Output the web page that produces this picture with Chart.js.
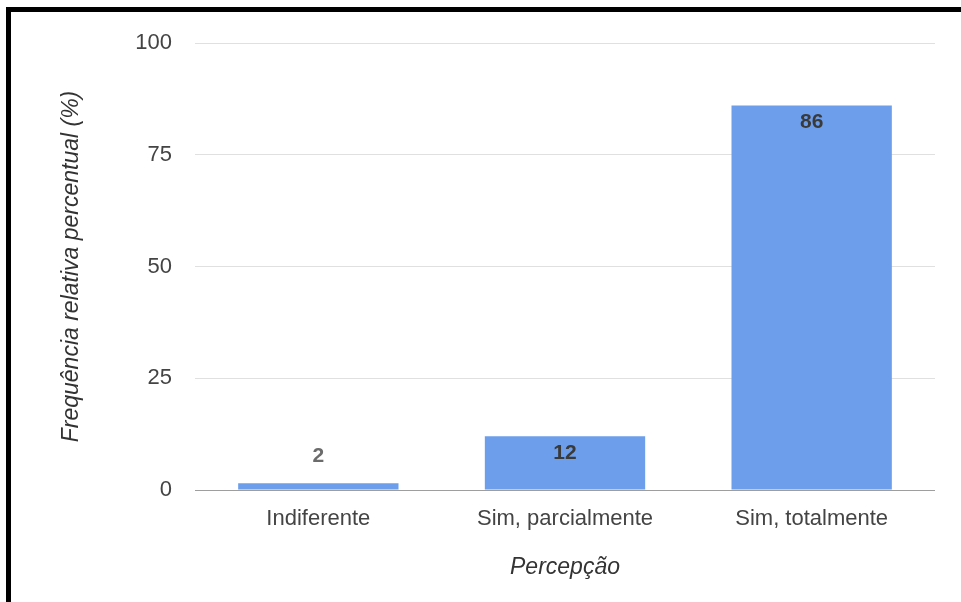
<!DOCTYPE html>
<html>
<head>
<meta charset="utf-8">
<script src="https://cdn.jsdelivr.net/npm/chart.js@4/dist/chart.umd.min.js"></script>
<style>
  html, body { margin: 0; padding: 0; background: #fff; }
  #wrap { position: relative; width: 961px; height: 602px; overflow: hidden; }
  #frame { position: absolute; left: 6px; top: 7px; right: -10px; bottom: -10px;
           border-left: 5px solid #000; border-top: 5px solid #000; }
  canvas { position: absolute; left: 0; top: 0; }
</style>
</head>
<body>
<div id="wrap">
  <div id="frame"></div>
  <canvas id="c" width="961" height="602"></canvas>
</div>
<script>
const categories = ["Indiferente", "Sim, parcialmente", "Sim, totalmente"];
const values = [1.5, 12, 86];
const yTicks = [0, 25, 50, 75, 100];
const xTitle = "Percepção";
const yTitle = "Frequência relativa percentual (%)";

const FONT = "'Liberation Sans', Arial, sans-serif";

const valueLabels = {
  id: 'valueLabels',
  afterDatasetsDraw(chart) {
    const ctx = chart.ctx;
    const meta = chart.getDatasetMeta(0);
    ctx.save();
    ctx.font = "bold 21px " + FONT;
    ctx.textAlign = 'center';
    ctx.textBaseline = 'middle';
    meta.data.forEach((bar, i) => {
      const v = chart.data.datasets[0].data[i];
      const txt = String(Math.round(v));
      const h = bar.base - bar.y;
      if (h > 30) {
        ctx.fillStyle = '#3a3a3a';
        ctx.fillText(txt, bar.x, bar.y + 17);
      } else {
        ctx.fillStyle = '#6b6b6b';
        ctx.fillText(txt, bar.x, bar.y - 27);
      }
    });
    ctx.restore();
  }
};

new Chart(document.getElementById('c'), {
  type: 'bar',
  data: {
    labels: categories,
    datasets: [{
      data: values,
      backgroundColor: '#6d9eeb',
      borderWidth: 0,
      categoryPercentage: 1.0,
      barPercentage: 0.65
    }]
  },
  options: {
    responsive: false,
    animation: false,
    devicePixelRatio: 1,
    layout: { padding: { top: 43, right: 26, bottom: 0, left: 0 } },
    plugins: { legend: { display: false }, tooltip: { enabled: false } },
    scales: {
      x: {
        grid: { display: false, drawTicks: false },
        border: { display: false },
        ticks: { color: '#444', font: { family: FONT, size: 22 }, padding: 16, maxRotation: 0 },
        title: { display: true, text: xTitle, color: '#333',
                 font: { family: FONT, size: 23, style: 'italic' },
                 padding: { top: 0, bottom: 21 } },
        afterFit: (s) => { s.height = 112; }
      },
      y: {
        min: 0, max: 100,
        afterBuildTicks: (s) => { s.ticks = yTicks.map(v => ({ value: v })); },
        grid: {
          drawTicks: false,
          color: (c) => c.tick && c.tick.value === 0 ? '#9e9e9e' : '#e0e0e0',
          lineWidth: 1
        },
        border: { display: false },
        ticks: { color: '#444', font: { family: FONT, size: 22 }, padding: 23 },
        title: { display: true, text: yTitle, color: '#333',
                 font: { family: FONT, size: 23, style: 'italic' },
                 padding: { top: 58, bottom: 0 } },
        afterFit: (s) => { s.width = 195; }
      }
    }
  },
  plugins: [valueLabels]
});
</script>
</body>
</html>
